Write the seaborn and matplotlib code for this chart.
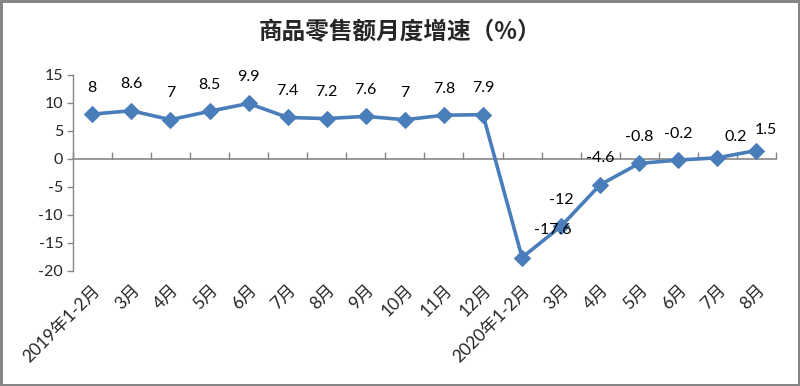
import matplotlib
matplotlib.use("Agg")
import matplotlib.pyplot as plt
import seaborn as sns
import numpy as np
import pandas as pd

categories = ["2019年1-2月", "3月", "4月", "5月", "6月", "7月", "8月", "9月", "10月",
              "11月", "12月", "2020年1-2月", "3月", "4月", "5月", "6月", "7月", "8月"]
values = [8, 8.6, 7, 8.5, 9.9, 7.4, 7.2, 7.6, 7, 7.8, 7.9,
          -17.6, -12, -4.6, -0.8, -0.2, 0.2, 1.5]
value_labels = ["8", "8.6", "7", "8.5", "9.9", "7.4", "7.2", "7.6", "7", "7.8", "7.9",
                "-17.6", "-12", "-4.6", "-0.8", "-0.2", "0.2", "1.5"]
title = "商品零售额月度增速（%）"
yticks = [-20, -15, -10, -5, 0, 5, 10, 15]

sns.set_theme(style="white")
plt.rcParams["font.family"] = ["Lato", "Noto Sans CJK SC", "DejaVu Sans"]

gray = "#868686"
blue = "#4A7EBB"

fig = plt.figure(figsize=(8, 3.86), dpi=100)
fig.patch.set_edgecolor(gray)
fig.patch.set_linewidth(2.5)
ax = fig.add_axes([0.091, 0.298, 0.879, 0.508])

df = pd.DataFrame({"x": np.arange(len(values)), "y": values})
sns.lineplot(data=df, x="x", y="y", ax=ax, color=blue, linewidth=2.6,
             marker="D", markersize=8.5, markeredgecolor=blue, markerfacecolor=blue)

ymin, ymax = yticks[0], yticks[-1]
ax.set_ylim(ymin, ymax)
ax.set_xlim(-0.5, len(values) - 0.5)
ax.set_xlabel("")
ax.set_ylabel("")

# label offsets (points)
offsets = {11: (22, 20), 16: (13, 15), 17: (7, 15)}
for i, (v, t) in enumerate(zip(values, value_labels)):
    dx, dy = offsets.get(i, (0, 19))
    ax.annotate(t, (i, v), xytext=(dx, dy), textcoords="offset points",
                ha="center", va="center", fontsize=11.5, color="black")

for s in ["top", "right", "bottom"]:
    ax.spines[s].set_visible(False)
ax.spines["left"].set_color(gray)
ax.spines["left"].set_linewidth(1)

ax.set_yticks(yticks)
ax.set_yticklabels([str(t) for t in yticks], fontsize=11.5)
ax.tick_params(axis="y", direction="out", length=4, width=1, color=gray, pad=3, left=True)

ax.set_xticks(np.arange(len(values)))
ax.set_xticklabels(categories, rotation=45, ha="right", rotation_mode="anchor", fontsize=12.5)
ax.tick_params(axis="x", length=0, pad=8)

# zero-line category axis with boundary tick marks
zero_frac = (0 - ymin) / (ymax - ymin)
sec = ax.secondary_xaxis(zero_frac)
sec.set_xticks(np.arange(-0.5, len(values), 1.0))
sec.set_xticklabels([])
sec.tick_params(axis="x", direction="out", length=5, width=1, color=gray)
for s in sec.spines.values():
    s.set_color(gray)
    s.set_linewidth(1.2)

fig.text(0.5, 0.915, title, ha="center", va="center", fontsize=17,
         fontweight="bold", family=["Noto Sans CJK SC", "DejaVu Sans"])

fig.savefig("out.png", dpi=100, edgecolor=fig.get_edgecolor())
